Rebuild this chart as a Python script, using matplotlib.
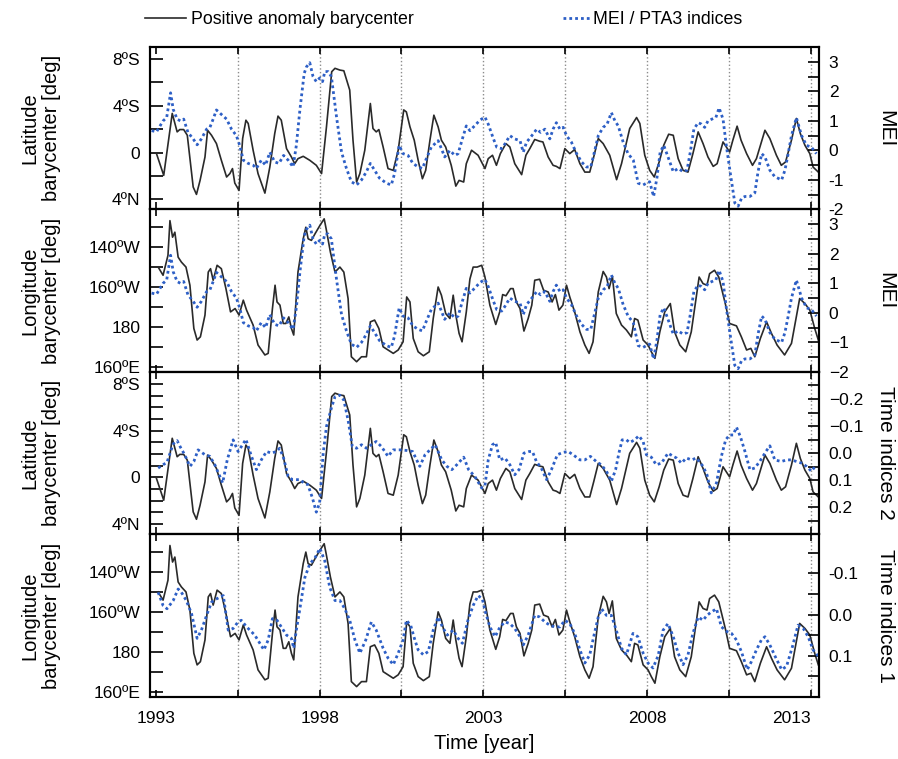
import matplotlib
matplotlib.use("Agg")
import matplotlib.pyplot as plt
from matplotlib.ticker import FixedLocator

plt.rcParams['font.family'] = ['Liberation Sans', 'DejaVu Sans']

# barycenter latitude (deg, south positive) - same series in panels 1 and 3
lat_t = [1993.02, 1993.24, 1993.5, 1993.65, 1993.73, 1993.85, 1993.96, 1994.14, 1994.24, 1994.35,
         1994.5, 1994.58, 1994.7, 1994.85, 1995.0, 1995.16, 1995.26, 1995.34, 1995.41, 1995.54,
         1995.65, 1995.75, 1995.82, 1995.97, 1996.12, 1996.33, 1996.48, 1996.63, 1996.73, 1996.83,
         1996.99, 1997.14, 1997.24, 1997.34, 1997.5, 1997.7, 1997.9, 1998.06, 1998.21, 1998.37,
         1998.47, 1998.62, 1998.74, 1998.92, 1999.02, 1999.13, 1999.23, 1999.38, 1999.55, 1999.63,
         1999.73, 1999.81, 1999.94, 2000.09, 2000.25, 2000.4, 2000.57, 2000.65, 2000.76, 2000.89,
         2001.01, 2001.14, 2001.24, 2001.37, 2001.49, 2001.62, 2001.72, 2001.85, 2002.02, 2002.16,
         2002.26, 2002.4, 2002.48, 2002.64, 2002.84, 2003.05, 2003.15, 2003.28, 2003.4, 2003.52,
         2003.69, 2003.81, 2003.96, 2004.17, 2004.3, 2004.42, 2004.57, 2004.72, 2004.82, 2004.98,
         2005.13, 2005.23, 2005.34, 2005.49, 2005.64, 2005.79, 2005.95, 2006.1, 2006.25, 2006.37,
         2006.51, 2006.66, 2006.86, 2007.07, 2007.22, 2007.47, 2007.68, 2007.78, 2007.93, 2008.08,
         2008.22, 2008.37, 2008.51, 2008.66, 2008.8, 2008.95, 2009.1, 2009.25, 2009.4, 2009.56,
         2009.71, 2009.86, 2010.02, 2010.14, 2010.32, 2010.42, 2010.52, 2010.62, 2010.75, 2010.87,
         2011.04, 2011.22, 2011.34, 2011.6, 2011.75, 2011.95, 2012.1, 2012.23, 2012.41, 2012.56,
         2012.68, 2012.82, 2012.97, 2013.07, 2013.23]
lat_v = [-0.1, -1.95, 3.35, 1.77, 1.97, 1.97, 1.48, -2.95, -3.58, -2.38,
         -0.38, 1.91, 1.48, 0.77, -0.66, -2.09, -1.8, -1.37, -2.61, -3.24,
         1.2, 2.77, 2.49, 0.2, -1.8, -3.47, -1.24, 1.63, 3.12, 2.77,
         0.34, -0.38, -0.95, -0.52, -0.32, -0.66, -1.09, -1.8, 2.2, 6.92,
         7.21, 7.06, 7.0, 5.35, 1.06, -2.52, -1.8, 0.2, 4.2, 2.06,
         1.77, 1.97, 0.48, -1.37, -1.52, 0.2, 3.65, 3.48, 2.2, 1.06,
         -0.66, -2.24, -1.52, 1.06, 3.2, 2.2, 1.06, 0.48, -1.09, -2.87,
         -2.38, -2.52, -0.95, 0.2, -0.23, -1.37, -0.52, -0.23, -1.09, -0.09,
         0.77, 0.48, -0.95, -1.89, -0.23, 0.34, 1.12, 0.97, 0.91, -0.38,
         -1.09, -1.18, -1.37, 0.34, -0.09, 0.26, -0.95, -1.67, -1.67, -0.38,
         1.2, 0.77, -0.23, -2.32, -0.95, 2.06, 3.0, 2.49, -0.23, -1.52,
         -2.09, -0.8, 0.63, 1.57, 1.48, -0.52, -1.52, -1.67, -0.09, 1.77,
         0.77, -0.38, -1.18, -0.95, 0.91, 0.48, 0.05, 1.06, 2.26, 1.06,
         -0.09, -1.09, -0.52, 1.91, 1.2, -0.23, -1.09, -0.8, 1.06, 2.92,
         1.63, 0.63, -0.09, -1.24, -1.67]

# barycenter longitude (deg east) - same series in panels 2 and 4
lon_t = [1993.07, 1993.22, 1993.37, 1993.43, 1993.51, 1993.58, 1993.68, 1993.78, 1993.92, 1994.04,
         1994.16, 1994.26, 1994.36, 1994.5, 1994.6, 1994.67, 1994.75, 1994.87, 1995.0, 1995.14,
         1995.28, 1995.42, 1995.54, 1995.67, 1995.77, 1995.97, 1996.12, 1996.33, 1996.43, 1996.56,
         1996.64, 1996.7, 1996.79, 1996.89, 1996.97, 1997.06, 1997.14, 1997.21, 1997.34, 1997.5,
         1997.58, 1997.65, 1997.75, 1997.86, 1998.01, 1998.14, 1998.2, 1998.33, 1998.47, 1998.62,
         1998.74, 1998.87, 1998.97, 1999.13, 1999.28, 1999.43, 1999.55, 1999.68, 1999.81, 1999.94,
         2000.09, 2000.25, 2000.4, 2000.55, 2000.66, 2000.76, 2000.86, 2001.01, 2001.17, 2001.35,
         2001.47, 2001.62, 2001.72, 2001.85, 2001.98, 2002.08, 2002.16, 2002.26, 2002.35, 2002.48,
         2002.59, 2002.69, 2002.81, 2002.95, 2003.05, 2003.2, 2003.38, 2003.5, 2003.59, 2003.69,
         2003.83, 2003.91, 2004.01, 2004.12, 2004.24, 2004.37, 2004.48, 2004.57, 2004.72, 2004.84,
         2004.98, 2005.1, 2005.2, 2005.31, 2005.43, 2005.54, 2005.64, 2005.79, 2005.95, 2006.1,
         2006.23, 2006.35, 2006.51, 2006.66, 2006.76, 2006.84, 2006.94, 2007.06, 2007.22, 2007.37,
         2007.52, 2007.62, 2007.72, 2007.88, 2008.03, 2008.13, 2008.24, 2008.39, 2008.54, 2008.71,
         2008.84, 2009.0, 2009.18, 2009.35, 2009.59, 2009.71, 2009.83, 2009.91, 2010.06, 2010.19,
         2010.4, 2010.52, 2010.73, 2010.88, 2011.04, 2011.17, 2011.29, 2011.46, 2011.65, 2011.8,
         2011.97, 2012.2, 2012.41, 2012.66, 2012.82, 2012.97, 2013.12, 2013.23]
lon_v = [210, 205.9, 215.9, 233.3, 225, 227.5, 215, 212.5, 210, 200.9,
         179.2, 173.4, 175, 185.9, 207.5, 209.2, 203.4, 210.9, 209.2, 199.2,
         187.5, 189.2, 185.9, 193.4, 188.4, 180.9, 170.9, 165.9, 166.7, 189.2,
         200.9, 192.5, 190.9, 181.7, 181.7, 185, 179.2, 175.9, 207.5, 224.2,
         230, 224.2, 223.4, 226.7, 230.9, 234.2, 229.2, 217.5, 207.5, 210,
         207.5, 194.2, 165, 162.5, 165, 165, 182.5, 183.4, 179.2, 170,
         168.4, 166.7, 168.4, 172.5, 195, 192.5, 174.2, 167.5, 165.5, 167.5,
         184.2, 200, 195.9, 186.7, 184.2, 195.9, 185.9, 176.7, 172.5, 187.5,
         204, 210, 210, 210.9, 205, 190.9, 181.2, 187.5, 196.2, 195.6,
         199.2, 199.2, 192.5, 189.2, 177.9, 184.2, 190.9, 203.4, 203.9, 198.4,
         197.5, 192.5, 196.2, 188.4, 190.9, 200.9, 195, 187.5, 177.5, 170.9,
         166.7, 172.5, 197.5, 207.8, 205, 199.2, 205.5, 186.7, 180.9, 178.4,
         175, 184.2, 183.4, 173.4, 170.9, 167.5, 164.2, 177.5, 187.5, 191.7,
         177.5, 170.9, 167.5, 177.5, 205, 201.7, 200.9, 206.7, 208.4, 205,
         190.9, 181.7, 180.5, 175, 168.4, 169.2, 165, 174.2, 182.5, 176.7,
         170.9, 165.9, 171.7, 194.2, 191.7, 188.4, 179.2, 173.4]

# MEI (panels 1 and 2)
mei_t = [1992.87, 1993.02, 1993.22, 1993.33, 1993.45, 1993.53, 1993.65, 1993.75, 1993.85, 1993.98,
         1994.14, 1994.26, 1994.39, 1994.55, 1994.65, 1994.75, 1994.85, 1995.0, 1995.16, 1995.31,
         1995.46, 1995.56, 1995.67, 1995.82, 1995.97, 1996.07, 1996.22, 1996.35, 1996.48, 1996.63,
         1996.76, 1996.9, 1997.04, 1997.19, 1997.29, 1997.4, 1997.53, 1997.6, 1997.7, 1997.8,
         1997.9, 1998.0, 1998.09, 1998.16, 1998.26, 1998.36, 1998.52, 1998.67, 1998.82, 1998.97,
         1999.13, 1999.28, 1999.43, 1999.55, 1999.68, 1999.83, 2000.04, 2000.19, 2000.29, 2000.43,
         2000.55, 2000.7, 2000.85, 2001.01, 2001.14, 2001.26, 2001.41, 2001.62, 2001.72, 2001.82,
         2001.98, 2002.13, 2002.23, 2002.36, 2002.48, 2002.59, 2002.74, 2002.9, 2003.05, 2003.15,
         2003.31, 2003.41, 2003.56, 2003.66, 2003.81, 2003.96, 2004.12, 2004.22, 2004.32, 2004.44,
         2004.63, 2004.75, 2004.88, 2005.03, 2005.13, 2005.23, 2005.34, 2005.44, 2005.54, 2005.69,
         2005.85, 2006.0, 2006.15, 2006.28, 2006.38, 2006.51, 2006.66, 2006.78, 2006.91, 2007.02,
         2007.12, 2007.27, 2007.42, 2007.58, 2007.73, 2007.88, 2007.98, 2008.08, 2008.2, 2008.3,
         2008.4, 2008.51, 2008.64, 2008.8, 2008.95, 2009.1, 2009.22, 2009.32, 2009.43, 2009.56,
         2009.66, 2009.76, 2009.86, 2010.02, 2010.1, 2010.2, 2010.32, 2010.42, 2010.55, 2010.68,
         2010.78, 2010.89, 2010.99, 2011.14, 2011.29, 2011.39, 2011.5, 2011.6, 2011.75, 2011.9,
         2012.11, 2012.21, 2012.31, 2012.41, 2012.56, 2012.72, 2012.87, 2013.02, 2013.17]
mei_v = [0.67, 0.63, 1.0, 1.11, 1.95, 1.39, 1.06, 1.0, 1.06, 0.61,
         0.39, 0.19, 0.39, 0.72, 0.78, 1.06, 1.37, 1.22, 1.06, 0.72,
         0.5, 0.17, -0.33, -0.44, -0.5, -0.61, -0.33, -0.5, -0.06, -0.39,
         -0.44, -0.17, -0.33, -0.56, 0.17, 1.39, 2.61, 2.83, 2.97, 2.5,
         2.33, 2.45, 2.33, 2.67, 2.67, 2.5, 1.11, -0.06, -0.61, -1.06,
         -1.17, -1.0, -0.72, -0.44, -0.67, -0.94, -1.11, -1.17, -0.78, 0.17,
         -0.11, -0.17, -0.44, -0.56, -0.61, -0.28, 0.11, 0.33, 0.06, -0.22,
         0.0, -0.17, -0.11, 0.39, 0.83, 0.67, 0.84, 1.03, 1.13, 0.89,
         0.39, 0.11, 0.06, 0.22, 0.5, 0.39, 0.33, -0.06, 0.28, 0.44,
         0.72, 0.61, 0.72, 0.39, 0.72, 0.94, 0.72, 0.78, 0.5, 0.28,
         -0.11, -0.39, -0.56, -0.56, -0.11, 0.5, 0.78, 0.89, 1.28, 1.0,
         0.83, 0.28, -0.11, -0.33, -1.11, -1.17, -1.11, -1.06, -1.56, -0.94,
         -0.06, 0.17, -0.22, -0.72, -0.61, -0.72, -0.67, -0.06, 0.72, 0.94,
         0.89, 0.78, 1.0, 1.08, 1.11, 1.44, 1.06, 0.17, -0.83, -1.78,
         -1.89, -1.61, -1.56, -1.56, -1.44, -0.72, -0.11, -0.22, -0.67, -0.89,
         -1.0, -0.67, -0.11, 0.5, 1.11, 0.5, 0.17, 0.11, -0.11]

# PTA3 time indices 2 (panel 3)
ti2_t = [1993.07, 1993.22, 1993.34, 1993.53, 1993.65, 1993.75, 1993.88, 1994.04, 1994.16, 1994.29,
         1994.5, 1994.65, 1994.8, 1995.04, 1995.18, 1995.36, 1995.51, 1995.61, 1995.75, 1995.92,
         1996.07, 1996.22, 1996.38, 1996.53, 1996.68, 1996.78, 1996.9, 1997.04, 1997.17, 1997.29,
         1997.41, 1997.51, 1997.64, 1997.78, 1997.9, 1998.0, 1998.11, 1998.21, 1998.37, 1998.47,
         1998.62, 1998.74, 1998.87, 1999.0, 1999.13, 1999.28, 1999.43, 1999.58, 1999.73, 1999.89,
         2000.09, 2000.25, 2000.45, 2000.65, 2000.84, 2001.06, 2001.22, 2001.37, 2001.53, 2001.73,
         2001.89, 2002.04, 2002.19, 2002.4, 2002.55, 2002.74, 2002.95, 2003.05, 2003.15, 2003.28,
         2003.38, 2003.5, 2003.66, 2003.81, 2003.96, 2004.09, 2004.24, 2004.4, 2004.5, 2004.62,
         2004.77, 2004.93, 2005.08, 2005.26, 2005.44, 2005.59, 2005.74, 2005.95, 2006.1, 2006.27,
         2006.45, 2006.6, 2006.76, 2006.91, 2007.04, 2007.14, 2007.24, 2007.37, 2007.47, 2007.62,
         2007.75, 2007.88, 2007.98, 2008.13, 2008.28, 2008.44, 2008.64, 2008.8, 2008.9, 2009.05,
         2009.2, 2009.36, 2009.51, 2009.71, 2009.83, 2009.96, 2010.12, 2010.27, 2010.4, 2010.52,
         2010.63, 2010.73, 2010.85, 2010.99, 2011.14, 2011.29, 2011.44, 2011.63, 2011.75, 2011.9,
         2012.1, 2012.26, 2012.41, 2012.56, 2012.72, 2012.87, 2013.02, 2013.17]
ti2_v = [0.055, 0.043, 0.034, -0.034, -0.046, -0.022, 0.006, 0.049, 0.031, -0.012,
         0.006, 0.012, 0.043, 0.11, 0.025, -0.049, -0.006, -0.024, -0.051, 0.012,
         0.061, 0.025, -0.006, 0.0, -0.006, -0.018, 0.018, 0.086, 0.098, 0.098,
         0.098, 0.11, 0.116, 0.165, 0.218, 0.184, 0.0, -0.098, -0.171, -0.208,
         -0.214, -0.196, -0.122, -0.024, -0.018, -0.031, -0.018, -0.031, -0.043, -0.024,
         0.012, -0.012, -0.012, -0.01, -0.006, 0.049, 0.006, -0.012, -0.031, 0.025,
         0.049, 0.061, 0.043, 0.015, 0.061, 0.086, 0.129, 0.12, 0.025, -0.031,
         -0.039, 0.025, 0.018, 0.043, 0.08, 0.061, 0.0, -0.006, -0.006, 0.031,
         0.055, 0.098, 0.061, 0.006, -0.003, -0.006, 0.006, 0.025, 0.025, 0.012,
         0.031, 0.043, 0.067, 0.104, 0.061, 0.0, -0.049, -0.049, -0.039, -0.049,
         -0.064, -0.043, 0.006, 0.015, 0.043, 0.037, 0.0, 0.012, 0.018, 0.037,
         0.018, 0.025, 0.018, 0.049, 0.08, 0.147, 0.11, 0.012, -0.049, -0.067,
         -0.067, -0.096, -0.061, -0.006, 0.061, 0.055, 0.031, -0.006, -0.027, 0.025,
         0.031, 0.025, 0.025, 0.031, 0.037, 0.049, 0.067, 0.043]

# PTA3 time indices 1 (panel 4)
ti1_t = [1993.07, 1993.22, 1993.34, 1993.53, 1993.68, 1993.78, 1993.93, 1994.09, 1994.26, 1994.39,
         1994.55, 1994.7, 1994.85, 1995.06, 1995.21, 1995.36, 1995.51, 1995.61, 1995.77, 1996.02,
         1996.3, 1996.43, 1996.56, 1996.7, 1996.83, 1996.99, 1997.14, 1997.21, 1997.29, 1997.39,
         1997.55, 1997.7, 1997.86, 1998.01, 1998.16, 1998.31, 1998.47, 1998.62, 1998.77, 1998.92,
         1999.08, 1999.23, 1999.41, 1999.58, 1999.73, 1999.94, 2000.09, 2000.25, 2000.4, 2000.55,
         2000.65, 2000.78, 2000.91, 2001.01, 2001.17, 2001.32, 2001.47, 2001.62, 2001.75, 2001.9,
         2002.08, 2002.23, 2002.36, 2002.53, 2002.69, 2002.84, 2002.97, 2003.05, 2003.2, 2003.36,
         2003.51, 2003.66, 2003.81, 2003.96, 2004.12, 2004.22, 2004.37, 2004.57, 2004.72, 2004.88,
         2005.03, 2005.18, 2005.34, 2005.49, 2005.64, 2005.79, 2005.95, 2006.1, 2006.25, 2006.37,
         2006.51, 2006.61, 2006.76, 2006.91, 2007.06, 2007.22, 2007.37, 2007.57, 2007.72, 2007.88,
         2008.03, 2008.18, 2008.34, 2008.49, 2008.64, 2008.8, 2008.95, 2009.1, 2009.25, 2009.4,
         2009.56, 2009.71, 2009.83, 2009.96, 2010.12, 2010.27, 2010.45, 2010.58, 2010.73, 2010.88,
         2011.06, 2011.19, 2011.34, 2011.49, 2011.6, 2011.75, 2011.9, 2012.11, 2012.26, 2012.44,
         2012.61, 2012.77, 2012.92, 2013.07, 2013.23]
ti1_v = [-0.054, -0.022, -0.014, -0.034, -0.062, -0.054, -0.034, -0.002, 0.058, 0.038,
         0.002, -0.03, -0.038, -0.046, 0.038, 0.034, 0.018, 0.014, 0.03, 0.05,
         0.086, 0.062, 0.01, 0.014, 0.03, 0.05, 0.058, 0.082, 0.038, -0.01,
         -0.09, -0.123, -0.138, -0.161, -0.13, -0.066, -0.034, -0.034, -0.014, 0.014,
         0.062, 0.094, 0.062, 0.018, 0.038, 0.082, 0.106, 0.122, 0.094, 0.062,
         0.014, 0.026, 0.062, 0.086, 0.098, 0.09, 0.038, 0.006, 0.03, 0.05,
         0.038, 0.058, 0.07, 0.014, -0.022, -0.046, -0.038, -0.01, 0.03, 0.054,
         0.03, 0.018, 0.022, 0.034, 0.054, 0.074, 0.05, 0.002, 0.006, 0.018,
         0.026, 0.03, 0.03, 0.014, 0.022, 0.046, 0.086, 0.118, 0.098, 0.054,
         0.006, -0.014, 0.002, 0.002, 0.038, 0.082, 0.098, 0.046, 0.054, 0.094,
         0.118, 0.13, 0.1, 0.038, 0.022, 0.054, 0.094, 0.122, 0.098, 0.046,
         0.006, 0.014, 0.002, -0.006, -0.014, 0.03, 0.042, 0.046, 0.062, 0.09,
         0.134, 0.114, 0.086, 0.062, 0.054, 0.074, 0.1, 0.134, 0.126, 0.078,
         0.026, 0.034, 0.054, 0.086, 0.102]

x_ticks = [1993, 1995.5, 1998, 2000.5, 2003, 2005.5, 2008, 2010.5, 2013]
x_labels = ['1993', '', '1998', '', '2003', '', '2008', '', '2013']
grid_years = [1995.5, 1998, 2000.5, 2003, 2005.5, 2008, 2010.5, 2013]

lat_ticks = [-4, 0, 4, 8]
lat_labels = ['4ºN', '0', '4ºS', '8ºS']
lon_ticks = [160, 180, 200, 220]
lon_labels = ['160ºE', '180', '160ºW', '140ºW']

black = '#2a2a2a'
blue = '#2d5fc6'

fig, axes = plt.subplots(4, 1, figsize=(8.98, 7.59), dpi=100, sharex=True,
                         gridspec_kw=dict(hspace=0))
fig.subplots_adjust(left=0.167, right=0.912, top=0.938, bottom=0.082)

# left-axis and right-axis setup for each panel
left_data = [(lat_t, lat_v), (lon_t, lon_v), (lat_t, lat_v), (lon_t, lon_v)]
right_data = [(mei_t, mei_v), (mei_t, mei_v), (ti2_t, ti2_v), (ti1_t, ti1_v)]
left_lims = [(-4.87, 9.03), (157.4, 238.9), (-4.87, 9.03), (157.4, 238.9)]
left_major = [lat_ticks, lon_ticks, lat_ticks, lon_ticks]
left_lbls = [lat_labels, lon_labels, lat_labels, lon_labels]
left_minor = [[-2, 2, 6], [170, 190, 210, 230],
              [-3, -2, -1, 1, 2, 3, 5, 6, 7], [170, 190, 210, 230]]
right_lims = [(-2, 3.5), (-2, 3.5), (0.3, -0.3), (0.2, -0.195)]
right_major = [[-2, -1, 0, 1, 2, 3], [-2, -1, 0, 1, 2, 3],
               [-0.2, -0.1, 0.0, 0.1, 0.2], [-0.1, 0.0, 0.1]]
right_lbls = [['-2', '-1', '0', '1', '2', '3'],
              ['\u22122', '\u22121', '0', '1', '2', '3'],
              ['\u22120.2', '\u22120.1', '0.0', '0.1', '0.2'],
              ['-0.1', '0.0', '0.1']]
right_minor = [[-1.5, -0.5, 0.5, 1.5, 2.5], [-1.5, -0.5, 0.5, 1.5, 2.5],
               [-0.25, -0.15, -0.05, 0.05, 0.15, 0.25],
               [-0.15, -0.05, 0.05, 0.15]]
ylabels = ['Latitude\nbarycenter [deg]', 'Longitude\nbarycenter [deg]',
           'Latitude\nbarycenter [deg]', 'Longitude\nbarycenter [deg]']
rlabels = ['MEI', 'MEI', 'Time indices 2', 'Time indices 1']

for i, ax in enumerate(axes):
    ax2 = ax.twinx()
    lh, = ax.plot(*left_data[i], color=black, lw=1.2)
    rh, = ax2.plot(*right_data[i], color=blue, lw=2.0, ls=(0, (1, 1.1)))

    ax.set_xlim(1992.82, 2013.25)
    ax.set_ylim(*left_lims[i])
    ax.set_yticks(left_major[i])
    ax.set_yticklabels(left_lbls[i])
    ax.yaxis.set_minor_locator(FixedLocator(left_minor[i]))
    ax2.set_ylim(*right_lims[i])
    ax2.set_yticks(right_major[i])
    ax2.set_yticklabels(right_lbls[i])
    ax2.yaxis.set_minor_locator(FixedLocator(right_minor[i]))

    for yr in grid_years:
        ax.axvline(yr, color='0.55', ls=':', lw=1.0, zorder=0)

    ax.set_xticks(x_ticks)
    ax.tick_params(axis='x', which='both', direction='in', top=True, bottom=True,
                   length=5, width=1.2, labelsize=12.5)
    ax.tick_params(axis='y', which='both', direction='in', length=9, width=1.2,
                   labelsize=12.5, pad=7, right=False)
    ax2.tick_params(axis='y', which='both', direction='in', length=8, width=1.2,
                    labelsize=12.5, pad=7)
    for a in (ax, ax2):
        for s in a.spines.values():
            s.set_linewidth(1.5)

    box = ax.get_position()
    yc = (box.y0 + box.y1) / 2
    fig.text(0.045, yc, ylabels[i], rotation=90, ha='center', va='center',
             ma='center', fontsize=14.5, linespacing=1.2)
    fig.text(0.986, yc, rlabels[i], rotation=-90, ha='center', va='center',
             fontsize=15)

axes[-1].set_xticklabels(x_labels)
axes[-1].get_xticklabels()[-1].set_ha('right')
axes[-1].tick_params(axis='x', pad=10)
axes[-1].set_xlabel('Time [year]', fontsize=14.5, labelpad=6)

fig.legend(handles=[lh], labels=['Positive anomaly barycenter'], loc='center left',
           bbox_to_anchor=(0.1615, 0.974), frameon=False, borderpad=0, borderaxespad=0,
           handlelength=2.3, handletextpad=0.3, fontsize=12.8)
fig.legend(handles=[rh], labels=['MEI / PTA3 indices'], loc='center left',
           bbox_to_anchor=(0.627, 0.974), frameon=False, borderpad=0, borderaxespad=0,
           handlelength=1.5, handletextpad=0.2, fontsize=12.8)

fig.savefig('out.png', dpi=100)
